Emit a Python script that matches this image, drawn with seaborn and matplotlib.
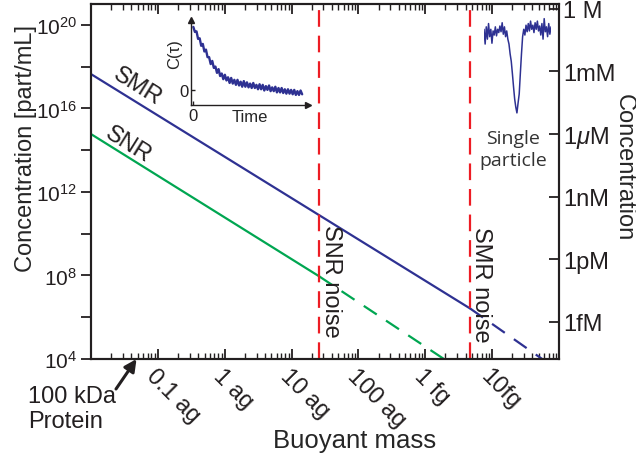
import numpy as np
import pandas as pd
import matplotlib
matplotlib.use("Agg")
import matplotlib.pyplot as plt
from matplotlib.ticker import FixedLocator, NullFormatter, NullLocator, LogLocator
from matplotlib.transforms import ScaledTranslation
import seaborn as sns

# ---------------- data ----------------
# buoyant mass in attograms (ag), concentration in particles / mL
smr_solid_mass = [0.01, 4700]
smr_solid_conc = [4.4e17, 2.6e6]
smr_dash_mass = [4700, 56000]
smr_dash_conc = [2.6e6, 1e4]

snr_solid_mass = [0.01, 26]
snr_solid_conc = [5.9e14, 9.0e7]
snr_dash_mass = [26, 1900]
snr_dash_conc = [9.0e7, 1e4]

noise_limits = [26, 4700]          # SNR noise, SMR noise (ag)
protein_mass = 0.048               # 100 kDa protein (ag)

x_tick_vals = [0.1, 1, 10, 100, 1000, 10000]
x_tick_labels = ["0.1 ag", "1 ag", "10 ag", "100 ag", "1 fg", "10fg"]
y_tick_vals = [1e4, 1e8, 1e12, 1e16, 1e20]
y_tick_labels = [r"$10^{4}$", r"$10^{8}$", r"$10^{12}$", r"$10^{16}$", r"$10^{20}$"]
y_minor_vals = [1e6, 1e10, 1e14, 1e18]
molar_tick_vals = [1, 1e-3, 1e-6, 1e-9, 1e-12, 1e-15]
molar_tick_labels = ["1 M", "1mM", r"1$\mu$M", "1nM", "1pM", "1fM"]
part_per_mL_per_molar = 6.022e20

# inset: autocorrelation C(tau) (normalised)
ctau_values = [1.00, 0.92, 0.93, 0.81, 0.82, 0.70, 0.73, 0.61, 0.64, 0.52,
               0.52, 0.41, 0.46, 0.35, 0.37, 0.27, 0.33, 0.22, 0.26, 0.17,
               0.24, 0.15, 0.20, 0.11, 0.19, 0.10, 0.16, 0.08, 0.16, 0.07,
               0.13, 0.05, 0.14, 0.05, 0.12, 0.04, 0.10, 0.03, 0.11, 0.03,
               0.08, 0.01, 0.09, 0.01, 0.08, -0.01, 0.06, 0.00, 0.07, -0.02,
               0.04, -0.02, 0.05, -0.04, 0.03, -0.04, 0.03, -0.05, 0.01, -0.06,
               0.01, -0.06, 0.00, -0.07, 0.00, -0.08, -0.02, -0.08, -0.01, -0.07]

# inset: single particle transit signal (normalised)
particle_values = [0.02, -0.16, 0.05, -0.10, 0.09, -0.07, 0.02, -0.15, 0.00, -0.05,
                   0.05, -0.06, 0.02, -0.02, 0.06, -0.01, 0.10, -0.04, 0.05, -0.07,
                   0.00, -0.10, -0.16, -0.28, -0.37, -0.52, -0.68, -0.83, -0.93, -1.00,
                   -0.88, -0.77, -0.52, -0.28, -0.07, 0.02, -0.05, 0.07, -0.01, 0.09,
                   0.00, 0.12, 0.02, 0.07, -0.02, 0.10, 0.02, 0.12, 0.00, 0.06,
                   -0.05, 0.09, -0.10, 0.15, -0.01, 0.05, -0.07, 0.09, -0.04, 0.05]

# ---------------- style ----------------
sns.set_theme(style="ticks")
plt.rcParams["font.family"] = ["Liberation Sans", "DejaVu Sans"]
plt.rcParams["mathtext.fontset"] = "custom"
plt.rcParams["mathtext.rm"] = "Liberation Sans"
plt.rcParams["mathtext.it"] = "Liberation Sans:italic"
plt.rcParams["mathtext.bf"] = "Liberation Sans:bold"
plt.rcParams["axes.linewidth"] = 1.5
plt.rcParams["axes.edgecolor"] = "#231f20"
plt.rcParams["text.color"] = "#231f20"
plt.rcParams["xtick.color"] = "#231f20"
plt.rcParams["ytick.color"] = "#231f20"

BLUE = "#2e3192"
GREEN = "#00a651"
RED = "#ed1c24"
DARK = "#231f20"
FS = 17

fig = plt.figure(figsize=(6.36, 4.6), dpi=100)
W, H = 636, 460
ax = fig.add_axes([91 / W, 1 - 360 / H, (559 - 91) / W, (360 - 5) / H])
ax.set_xscale("log")
ax.set_yscale("log")

def line(xs, ys, color, ls, axis):
    df = pd.DataFrame({"m": xs, "c": ys})
    sns.lineplot(data=df, x="m", y="c", ax=axis, color=color, linewidth=1.6,
                 linestyle=ls, estimator=None, sort=False, legend=False)

line(smr_solid_mass, smr_solid_conc, BLUE, "-", ax)
line(smr_dash_mass, smr_dash_conc, BLUE, (0, (7, 5)), ax)
line(snr_solid_mass, snr_solid_conc, GREEN, "-", ax)
line(snr_dash_mass, snr_dash_conc, GREEN, (0, (7, 5)), ax)
for xv in noise_limits:
    ax.axvline(xv, color=RED, linewidth=1.6, linestyle=(0, (7.5, 4)))

ax.set_xlim(1e-2, 1e5)
ax.set_ylim(1e4, 1e21)
ax.set_xlabel("")
ax.set_ylabel("")

# x ticks
ax.xaxis.set_major_locator(FixedLocator(x_tick_vals))
ax.xaxis.set_minor_locator(LogLocator(base=10, subs=np.arange(2, 10), numticks=100))
ax.xaxis.set_minor_formatter(NullFormatter())
ax.set_xticklabels(x_tick_labels, rotation=-45, ha="left", va="top",
                   rotation_mode="anchor", fontsize=FS)
for lab in ax.get_xticklabels():
    lab.set_transform(lab.get_transform() + ScaledTranslation(-7 / 100, 0, fig.dpi_scale_trans))
ax.tick_params(axis="x", which="major", direction="in", length=7, width=1.3,
               top=True, bottom=True, pad=4)
ax.tick_params(axis="x", which="minor", direction="in", length=4, width=1.0,
               top=True, bottom=True)

# y ticks (left)
ax.yaxis.set_major_locator(FixedLocator(y_tick_vals))
ax.yaxis.set_minor_locator(FixedLocator(y_minor_vals))
ax.yaxis.set_minor_formatter(NullFormatter())
ax.set_yticklabels(y_tick_labels, fontsize=15)
ax.tick_params(axis="y", which="both", direction="out", length=7, width=1.3,
               left=True, right=False, pad=3)

# right axis (molar)
ax2 = ax.twinx()
ax2.set_yscale("log")
ax2.set_ylim(1e4 / part_per_mL_per_molar, 1e21 / part_per_mL_per_molar)
ax2.yaxis.set_major_locator(FixedLocator(molar_tick_vals))
ax2.yaxis.set_minor_locator(NullLocator())
ax2.set_yticklabels(molar_tick_labels, fontsize=FS)
ax2.tick_params(axis="y", which="major", direction="in", length=7, width=1.3, pad=3)
for s in ax2.spines.values():
    s.set_linewidth(1.5)

# axis labels
ax.set_ylabel("Concentration [part/mL]", fontsize=FS)
ax.yaxis.label.set_rotation_mode("anchor")
ax.yaxis.label.set_va("center")
ax.yaxis.label.set_ha("center")
ax.yaxis.set_label_coords((26 - 91) / 468, (360 - 149) / 355)

ax2.set_ylabel("Concentration", fontsize=FS, rotation=270)
ax2.yaxis.label.set_rotation_mode("anchor")
ax2.yaxis.label.set_va("center")
ax2.yaxis.label.set_ha("center")
ax2.yaxis.set_label_coords((624 - 91) / 468, (360 - 168) / 355)

ax.set_xlabel("Buoyant mass", fontsize=18.5)
ax.xaxis.label.set_va("center")
ax.xaxis.set_label_coords((355 - 91) / 468, (360 - 441) / 355)

# in-plot texts
ax.text(0.0486, 10**17.06, "SMR", rotation=-32, ha="center", va="center",
        rotation_mode="anchor", fontsize=FS)
ax.text(0.0357, 10**14.29, "SNR", rotation=-32, ha="center", va="center",
        rotation_mode="anchor", fontsize=FS)
ax.text(39.5, 10**7.78, "SNR noise", rotation=270, ha="center", va="center",
        rotation_mode="anchor", fontsize=FS)
ax.text(6850, 10**7.59, "SMR noise", rotation=270, ha="center", va="center",
        rotation_mode="anchor", fontsize=FS)

# protein annotation
ax.annotate("", xy=(protein_mass, 1e4), xycoords="data",
            xytext=(116, H - 390), textcoords="figure pixels",
            arrowprops=dict(arrowstyle="-|>", lw=2.2, color=DARK, mutation_scale=18,
                            shrinkA=0, shrinkB=0),
            annotation_clip=False)
fig.text(28 / W, 1 - 386 / H, "100 kDa\nProtein", ha="left", va="top",
         fontsize=FS, linespacing=1.2)

# inset: autocorrelation
ins = fig.add_axes([191 / W, 1 - 106 / H, (308 - 191) / W, (106 - 21) / H])
tvals = np.linspace(0.02, 0.95, len(ctau_values))
sns.lineplot(x=tvals, y=ctau_values, ax=ins, color=BLUE, linewidth=1.7,
             estimator=None, sort=False, legend=False)
ins.set_xlim(0, 1)
ins.set_ylim(-0.24, 1.11)
ins.patch.set_alpha(0)
for side in ["top", "right"]:
    ins.spines[side].set_visible(False)
for side in ["left", "bottom"]:
    ins.spines[side].set_linewidth(1.0)
ins.plot(1, 0, ">", transform=ins.transAxes, clip_on=False, ms=4, color=DARK)
ins.plot(0, 1, "^", transform=ins.transAxes, clip_on=False, ms=4, color=DARK)
ins.set_xticks([0.02])
ins.set_xticklabels(["0"], fontsize=12)
ins.set_yticks([0])
ins.set_yticklabels(["0"], fontsize=12)
ins.tick_params(direction="in", length=3, width=1.0, pad=2)
ins.set_xlabel("Time", fontsize=12)
ins.xaxis.label.set_va("center")
ins.xaxis.set_label_coords(0.5, -0.13)
ins.set_ylabel("C(τ)", fontsize=12)
ins.yaxis.label.set_rotation_mode("anchor")
ins.yaxis.label.set_va("center")
ins.yaxis.label.set_ha("center")
ins.yaxis.set_label_coords((175 - 191) / 117, (106 - 54) / 85)

# inset: single particle
sp = fig.add_axes([484 / W, 1 - 118 / H, 67 / W, 100 / H])
sns.lineplot(x=np.arange(len(particle_values)), y=particle_values, ax=sp,
             color=BLUE, linewidth=1.1, estimator=None, sort=False, legend=False)
sp.set_xlim(0, len(particle_values) - 1)
sp.set_ylim(-1.05, 0.17)
sp.axis("off")
fig.text(513 / W, 1 - 150 / H, "Single\nparticle", ha="center", va="center",
         fontsize=14, family=["Open Sans", "DejaVu Sans"], color="#333333",
         linespacing=1.35)

fig.savefig("out.png", dpi=100)
